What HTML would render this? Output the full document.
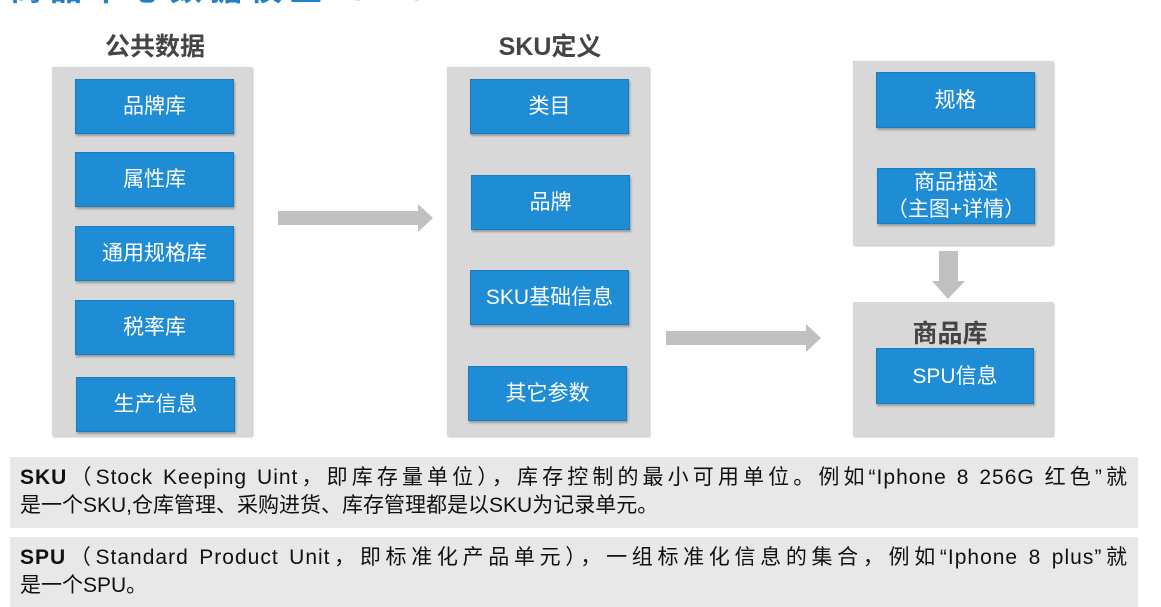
<!DOCTYPE html>
<html><head><meta charset="utf-8"><style>
body{margin:0;width:1161px;height:600px;overflow:hidden;background:#fff;position:relative;font-family:"Liberation Sans","Noto Sans CJK SC",sans-serif}
.a{position:absolute}
.p{position:absolute;background:#d8d8d8;box-shadow:1px 1px 2px #bbb}
.b{position:absolute;background:#1f8dd6;color:#fff;font-size:21px;display:flex;align-items:center;justify-content:center;text-align:center;line-height:27px;box-shadow:1px 2px 2px #999;border:1px solid #1a7dc0;box-sizing:border-box}
.t{position:absolute;font-size:25px;font-weight:bold;color:#444;text-align:center}
.x{position:absolute;left:10px;width:1128px;background:#e8e8e8;font-size:21px;line-height:28px;color:#111;padding:7px 10px;box-sizing:border-box}
.j{text-align:justify;text-align-last:justify;white-space:nowrap;letter-spacing:1px}
</style></head><body>
<div class="a" style="left:10px;top:-36px;font-size:32px;font-weight:bold;color:#1f7fc8;letter-spacing:8px">商品中心数据模型 SPU</div>
<div class="t" style="left:55px;width:200px;top:27px">公共数据</div>
<div class="t" style="left:450px;width:200px;top:27px">SKU定义</div>
<div class="p" style="left:52px;top:67px;width:200px;height:369px"></div>
<div class="b" style="left:75px;top:79px;width:159px;height:55px">品牌库</div>
<div class="b" style="left:75px;top:152px;width:159px;height:55px">属性库</div>
<div class="b" style="left:75px;top:226px;width:159px;height:55px">通用规格库</div>
<div class="b" style="left:75px;top:300px;width:159px;height:55px">税率库</div>
<div class="b" style="left:76px;top:377px;width:159px;height:55px">生产信息</div>
<div class="p" style="left:447px;top:67px;width:202px;height:369px"></div>
<div class="b" style="left:470px;top:79px;width:159px;height:55px">类目</div>
<div class="b" style="left:471px;top:175px;width:159px;height:55px">品牌</div>
<div class="b" style="left:470px;top:270px;width:159px;height:55px">SKU基础信息</div>
<div class="b" style="left:468px;top:366px;width:159px;height:55px">其它参数</div>
<div class="p" style="left:853px;top:61px;width:200px;height:184px"></div>
<div class="b" style="left:876px;top:72px;width:159px;height:56px">规格</div>
<div class="b" style="left:877px;top:168px;width:158px;height:56px">商品描述<br>（主图+详情）</div>
<div class="p" style="left:853px;top:302px;width:200px;height:134px"></div>
<div class="t" style="left:850px;width:200px;top:314px">商品库</div>
<div class="b" style="left:876px;top:348px;width:158px;height:56px">SPU信息</div>
<svg class="a" style="left:0;top:0" width="1161" height="600">
<polygon points="278,211 418,211 418,204 433,218 418,232 418,225 278,225" fill="#c0c0c0"/>
<polygon points="666,331 806,331 806,324 821,338 806,352 806,345 666,345" fill="#c0c0c0"/>
<polygon points="939,251 958,251 958,281 965,281 948,299 932,281 939,281" fill="#c0c0c0"/>
</svg>
<div class="x" style="top:457px;height:71px"><div class="j"><b>SKU</b>（Stock Keeping Uint，即库存量单位），库存控制的最小可用单位。例如“Iphone 8 256G 红色”就</div><div>是一个SKU,仓库管理、采购进货、库存管理都是以SKU为记录单元。</div></div>
<div class="x" style="top:537px;height:70px"><div class="j"><b>SPU</b>（Standard Product Unit，即标准化产品单元），一组标准化信息的集合，例如“Iphone 8 plus”就</div><div>是一个SPU。</div></div>
</body></html>
